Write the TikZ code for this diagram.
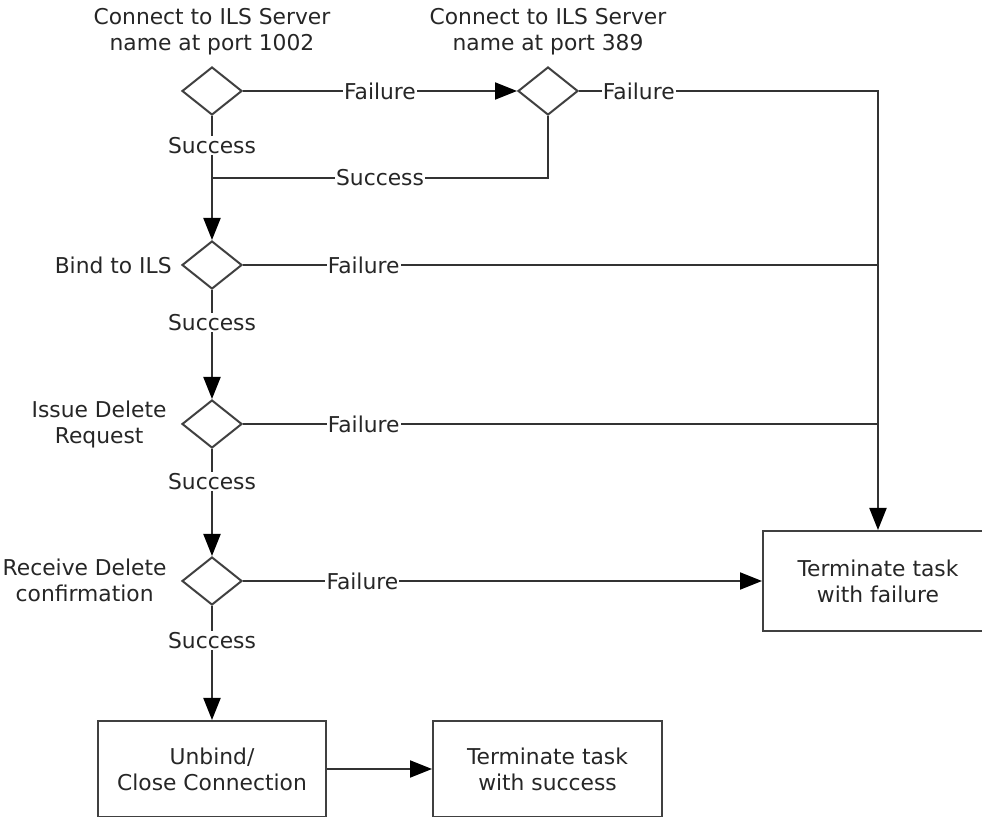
\documentclass[tikz,border=0pt]{standalone}
\usepackage{fontspec}
\setmainfont{DejaVu Sans}
\usetikzlibrary{shapes.geometric,arrows.meta}
\tikzset{
	dec/.style={diamond,draw=black!75,line width=1pt,minimum width=30pt,minimum height=24pt,inner sep=0pt},
	task/.style={rectangle,draw=black!75,line width=1pt,align=center,text=black!85},
	txt/.style={align=center,text=black!85,inner sep=0pt},
	lbl/.style={fill=white,text=black!85,inner sep=.6pt},
	flow/.style={draw=black!80,line width=1pt},
	arr/.style={flow,-{Triangle[length=11pt,width=8.5pt,color=black]}}
}
\begin{document}
\begin{tikzpicture}[x=.5pt,y=-.5pt,font=\fontsize{10.9}{13}\selectfont]
		\useasboundingbox (0,0) rectangle (982,817);
		\node[dec] (d1) at (212,91) {}; \node[txt] (t1) at (212,32) {Connect to ILS Server\\name at port 1002};
		\node[dec] (d2) at (548,91) {}; \node[txt] (t2) at (548,32) {Connect to ILS Server\\name at port 389};
		\node[dec] (d3) at (212,265) {}; \node[txt,anchor=east] (t3) at (172,265) {Bind to ILS};
		\node[dec] (d4) at (212,424) {}; \node[txt,anchor=east] (t4) at (167,424) {Issue Delete\\Request};
		\node[dec] (d5) at (212,581) {}; \node[txt,anchor=east] (t5) at (167,580) {Receive Delete\\confirmation};
		
		\node[task,minimum width=114pt,minimum height=48pt] (unbind) at (212,769) {Unbind/\\Close Connection};
		\node[task,minimum width=114.5pt,minimum height=48pt] (succ) at (547.5,769) {Terminate task\\with success};
		\node[task,minimum width=115pt,minimum height=50pt] (fail) at (878,581) {Terminate task\\with failure};
		
		\coordinate (c1) at (878,91); \coordinate (j1) at (212,178);
		
		\draw[arr] (d1) -- node[lbl]{Failure} (d2);
		\draw[arr] (d2.east) -- node[lbl,pos=.2]{Failure} (c1) -- (fail.north);
		\draw[flow] (d3.east) -- node[lbl,pos=.19]{Failure} (d3.east -| c1);
		\draw[flow] (d4.east) -- node[lbl,pos=.19]{Failure} (d4.east -| c1);
		\draw[arr] (d5) -- node[lbl,pos=.23]{Failure} (fail);
		
		\draw[arr] (d1) -- node[lbl,pos=.24]{Success} (d3);
		\draw[flow] (d2.south) |- node[lbl,pos=.75]{Success} (j1);
		\draw[arr] (d3) -- node[lbl,pos=.3]{Success} (d4);
		\draw[arr] (d4) -- node[lbl,pos=.3]{Success} (d5);
		\draw[arr] (d5) -- node[lbl,pos=.3]{Success} (unbind);
		\draw[arr] (unbind) -- (succ);
\end{tikzpicture}
\end{document}
